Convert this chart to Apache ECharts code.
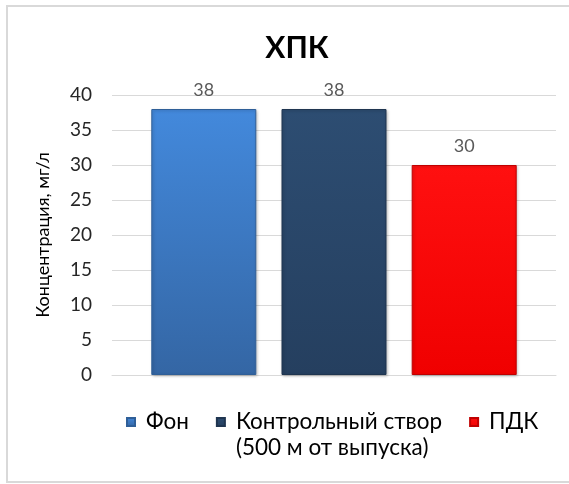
<!DOCTYPE html>
<html>
<head>
<meta charset="utf-8">
<script src="https://cdn.jsdelivr.net/npm/echarts@6/dist/echarts.min.js"></script>
<style>
html, body { margin: 0; padding: 0; background: #fff; }
#main { width: 569px; height: 484px; }
</style>
</head>
<body>
<div id="main"></div>
<script>
var seriesNames = ['Фон', 'Контрольный створ\n(500 м от выпуска)', 'ПДК'];
var seriesValues = [38, 38, 30];
var yTicks = { min: 0, max: 40, interval: 5 };

var colors = [
	['#4389dc', '#3466a4', '#2f5f98'],
	['#2d4d72', '#253f5f', '#1f3550'],
	['#ff1010', '#f00000', '#c00000']
];

var chart = echarts.init(document.getElementById('main'));

var series = seriesNames.map(function (name, i) {
	return {
		name: name,
		type: 'bar',
		data: [seriesValues[i]],
		barWidth: 105,
		barGap: '24%',
		itemStyle: {
			color: new echarts.graphic.LinearGradient(0, 0, 0, 1, [
				{ offset: 0, color: colors[i][0] },
				{ offset: 1, color: colors[i][1] }
			]),
			borderColor: colors[i][2],
			borderWidth: 1,
			shadowColor: 'rgba(0,0,0,0.25)',
			shadowBlur: 3,
			shadowOffsetX: 1,
			shadowOffsetY: 1
		},
		label: {
			show: true,
			position: 'top',
			distance: 10,
			color: '#595959',
			fontFamily: 'Lato',
			fontSize: 18
		}
	};
});

var option = {
	animation: false,
	title: {
		text: 'ХПК',
		left: 292,
		top: 28,
		textAlign: 'center',
		textStyle: { fontFamily: 'Lato', fontWeight: 'bold', fontSize: 30, color: '#000' }
	},
	graphic: [{
		type: 'rect',
		shape: { x: 7, y: 6, width: 570, height: 476 },
		style: { fill: 'none', stroke: '#d9d9d9', lineWidth: 2 }
	}],
	legend: {
		left: 126,
		top: 383,
		padding: 0,
		itemWidth: 8,
		itemHeight: 8,
		itemGap: 27,
		icon: 'rect',
		data: seriesNames,
		// пустая первая строка, чтобы первая строка текста встала вровень со значком
		formatter: function (name) {
			return name.indexOf('\n') >= 0 ? ' \n' + name : name;
		},
		textStyle: { fontFamily: 'Lato', fontSize: 22.5, color: '#000', lineHeight: 26, padding: [0, 0, 0, 6] }
	},
	grid: { left: 112, right: 13, top: 95, bottom: 109 },
	xAxis: {
		type: 'category',
		data: [''],
		axisTick: { show: false },
		axisLabel: { show: false },
		axisLine: { lineStyle: { color: '#d9d9d9' } }
	},
	yAxis: {
		type: 'value',
		min: yTicks.min,
		max: yTicks.max,
		interval: yTicks.interval,
		name: 'Концентрация, мг/л',
		nameLocation: 'middle',
		nameGap: 60,
		nameTextStyle: { fontFamily: 'Lato', fontSize: 18, color: '#000' },
		axisLabel: { fontFamily: 'Lato', fontSize: 19, color: '#262626', margin: 20 },
		splitLine: { lineStyle: { color: '#d9d9d9' } }
	},
	series: series
};

chart.setOption(option);
</script>
</body>
</html>
